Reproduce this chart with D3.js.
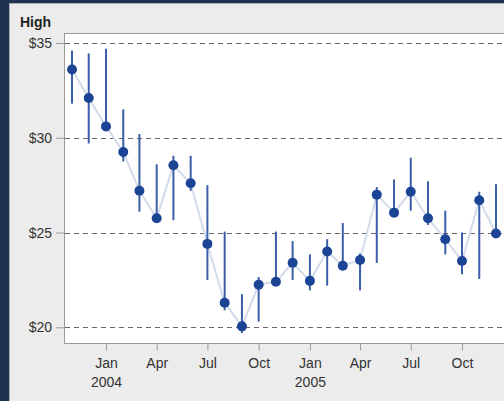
<!DOCTYPE html>
<html>
  <head>
    <meta charset="UTF-8" />
    <title>High</title>
    <style>
      body { margin: 0; background: #1f3350; }
      svg { display: block; font-family: 'Liberation Sans', Arial, sans-serif; }
    </style>
  </head>
  <body>
    <svg width="504" height="401"></svg>
    <script src="https://cdnjs.cloudflare.com/ajax/libs/d3/7.8.5/d3.min.js"></script>
    <script>
      // monthly values, Nov 2003 .. Dec 2005
      const months = [
        '2003-11', '2003-12', '2004-01', '2004-02', '2004-03', '2004-04',
        '2004-05', '2004-06', '2004-07', '2004-08', '2004-09', '2004-10',
        '2004-11', '2004-12', '2005-01', '2005-02', '2005-03', '2005-04',
        '2005-05', '2005-06', '2005-07', '2005-08', '2005-09', '2005-10',
        '2005-11', '2005-12',
      ];
      const highs = [
        33.6, 32.1, 30.6, 29.25, 27.2, 25.75, 28.55, 27.6, 24.4, 21.3, 20.05, 22.25,
        22.4, 23.4, 22.45, 24.0, 23.25, 23.55, 27.0, 26.05, 27.15, 25.75, 24.65, 23.5,
        26.7, 24.95,
      ];
      const rangeLow = [
        31.8, 29.7, 30.6, 28.75, 26.1, 25.65, 25.65, 27.2, 22.5, 20.9, 19.7, 20.3,
        22.25, 22.5, 21.95, 22.2, 23.1, 21.95, 23.4, 25.9, 26.15, 25.4, 23.85, 22.8,
        22.55, 24.85,
      ];
      const rangeHigh = [
        34.6, 34.45, 34.7, 31.5, 30.2, 28.6, 29.05, 29.05, 27.5, 25.05, 21.75, 22.65,
        25.05, 24.55, 23.85, 24.65, 25.5, 23.9, 27.4, 27.8, 28.95, 27.7, 26.15, 25.0,
        27.15, 27.55,
      ];
      const yTicks = [20, 25, 30, 35];
      const xTicks = ['2004-01', '2004-04', '2004-07', '2004-10', '2005-01', '2005-04', '2005-07', '2005-10'];
      const monthNames = ['Jan', 'Feb', 'Mar', 'Apr', 'May', 'Jun', 'Jul', 'Aug', 'Sep', 'Oct', 'Nov', 'Dec'];

      const parse = d3.utcParse('%Y-%m');
      const data = months.map((m, i) => ({
        date: parse(m),
        value: highs[i],
        low: rangeLow[i],
        high: rangeHigh[i],
      }));

      const svg = d3.select('svg');
      const width = +svg.attr('width');
      const height = +svg.attr('height');

      // panel
      svg.append('rect')
        .attr('x', 9.5).attr('y', 3.5)
        .attr('width', width).attr('height', height)
        .attr('fill', '#ececec')
        .attr('stroke', '#a9adb3');

      const plot = { left: 64, top: 33, bottom: 343, right: 530 };

      const x = d3.scaleUtc()
        .domain([parse('2004-01'), parse('2005-10')])
        .range([106, 462]);
      const y = d3.scaleLinear().domain([20, 35]).range([327.3, 43]);

      svg.append('rect')
        .attr('x', plot.left + 0.5).attr('y', plot.top + 0.5)
        .attr('width', plot.right - plot.left).attr('height', plot.bottom - plot.top)
        .attr('fill', '#fff')
        .attr('stroke', '#9a9a9a');

      svg.append('text')
        .attr('x', 20).attr('y', 27)
        .attr('font-size', 14).attr('font-weight', 'bold')
        .attr('fill', '#222')
        .text('High');

      // y axis
      const yAxis = svg.append('g')
        .attr('transform', `translate(${plot.left},0)`)
        .call(d3.axisLeft(y).tickValues(yTicks).tickSize(8).tickPadding(4).tickFormat((d) => '$' + d));
      yAxis.select('.domain').remove();
      yAxis.selectAll('line').attr('stroke', '#9a9a9a');
      yAxis.selectAll('text').attr('font-size', 14).attr('fill', '#333').attr('font-family', null);

      svg.append('g')
        .selectAll('line')
        .data(yTicks)
        .join('line')
        .attr('x1', plot.left + 1).attr('x2', width)
        .attr('y1', (d) => Math.round(y(d)) + 0.5).attr('y2', (d) => Math.round(y(d)) + 0.5)
        .attr('stroke', '#666')
        .attr('stroke-dasharray', '5,4');

      // x axis
      const xAxis = svg.append('g')
        .attr('transform', `translate(0,${plot.bottom + 0.5})`)
        .call(d3.axisBottom(x).tickValues(xTicks.map(parse)).tickSize(7).tickFormat(() => ''));
      xAxis.select('.domain').remove();
      xAxis.selectAll('line').attr('stroke', '#9a9a9a');
      xAxis.selectAll('.tick').each(function (d) {
        const t = d3.select(this).append('text')
          .attr('y', 24)
          .attr('text-anchor', 'middle')
          .attr('font-size', 14)
          .attr('fill', '#333');
        t.append('tspan').attr('x', 0).text(monthNames[d.getUTCMonth()]);
        if (d.getUTCMonth() === 0) {
          t.append('tspan').attr('x', 0).attr('dy', 19).text(d.getUTCFullYear());
        }
      });

      // connecting line
      svg.append('path')
        .datum(data)
        .attr('fill', 'none')
        .attr('stroke', '#d3dbeb')
        .attr('stroke-width', 2)
        .attr('d', d3.line().x((d) => x(d.date)).y((d) => y(d.value)));

      // ranges
      svg.append('g')
        .selectAll('line')
        .data(data)
        .join('line')
        .attr('x1', (d) => x(d.date)).attr('x2', (d) => x(d.date))
        .attr('y1', (d) => y(d.low)).attr('y2', (d) => y(d.high))
        .attr('stroke', '#3a5ea8')
        .attr('stroke-width', 2);

      // points
      svg.append('g')
        .selectAll('circle')
        .data(data)
        .join('circle')
        .attr('cx', (d) => x(d.date))
        .attr('cy', (d) => y(d.value))
        .attr('r', 5)
        .attr('fill', '#1b4494');
    </script>
  </body>
</html>
